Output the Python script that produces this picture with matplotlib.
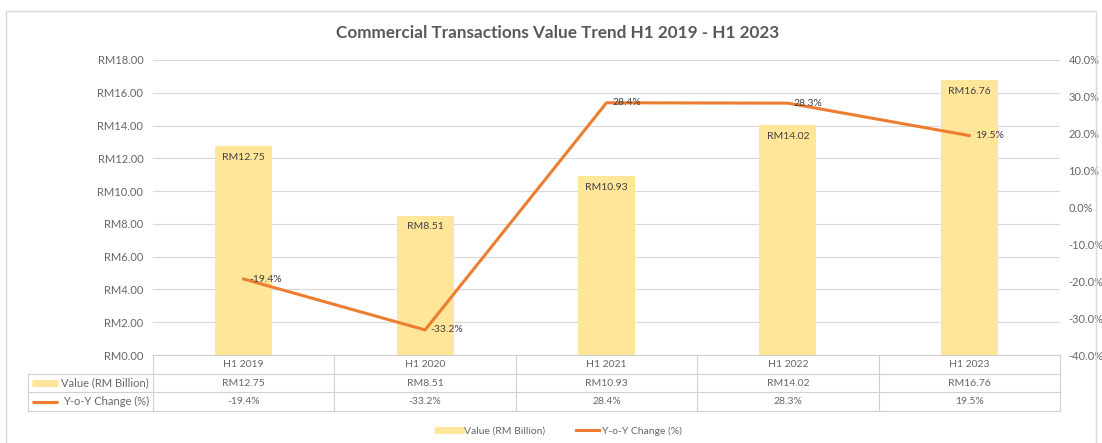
import numpy as np
import matplotlib.pyplot as plt
from matplotlib.lines import Line2D
from matplotlib.patches import Rectangle

plt.rcParams['font.family'] = ['Lato', 'DejaVu Sans']

periods = ['H1 2019', 'H1 2020', 'H1 2021', 'H1 2022', 'H1 2023']
values = [12.75, 8.51, 10.93, 14.02, 16.76]
yoy = [-19.4, -33.2, 28.4, 28.3, 19.5]
value_ticks = np.arange(0, 20, 2)
yoy_ticks = np.arange(-40, 50, 10)
series_names = ['Value (RM Billion)', 'Y-o-Y Change (%)']
title = 'Commercial Transactions Value Trend H1 2019 - H1 2023'

bar_color = '#FFE699'
line_color = '#ED7D31'
text_color = '#666666'
label_color = '#404040'
grid_color = '#D9D9D9'
fs = 7.5

W, H = 1102, 443
fig = plt.figure(figsize=(W / 100, H / 100), dpi=100)


def px(l, t, r, b):
    return [l / W, 1 - b / H, (r - l) / W, (b - t) / H]


# outer chart frame
fig.add_artist(Rectangle((6 / W, -0.02), (1096 - 6) / W, 1.02 - 11 / H,
                         transform=fig.transFigure, fill=False,
                         ec='#D9D9D9', lw=1))

fig.text(558 / W, 1 - 33 / H, title, ha='center', va='center',
         fontsize=12.3, color='#595959', weight='bold')

ax = fig.add_axes(px(153, 60, 1060, 355))
x = np.arange(len(periods))
ax.bar(x, values, width=0.315, color=bar_color, zorder=2)
ax.set_xlim(-0.5, 4.5)
ax.set_ylim(0, 18)
ax.set_yticks(value_ticks)
ax.set_yticklabels([f'RM{v:.2f}' for v in value_ticks])
ax.set_xticks([])
ax.grid(axis='y', color=grid_color, lw=0.8, zorder=0)
for s in ax.spines.values():
    s.set_visible(False)
ax.tick_params(axis='y', length=0, pad=7, labelsize=8, labelcolor=text_color)

for xi, v in zip(x, values):
    ax.annotate(f'RM{v:.2f}', (xi, v), xytext=(0, -5), textcoords='offset points',
                ha='center', va='top', fontsize=fs, color=label_color, zorder=4)

ax2 = ax.twinx()
ax2.plot(x, yoy, color=line_color, lw=2.2, zorder=3)
ax2.set_ylim(-40, 40)
ax2.set_yticks(yoy_ticks)
ax2.set_yticklabels([f'{v:.1f}%' for v in yoy_ticks])
for s in ax2.spines.values():
    s.set_visible(False)
ax2.tick_params(axis='y', length=0, pad=6, labelsize=8, labelcolor=text_color)
for xi, v in zip(x, yoy):
    ax2.annotate(f'{v}%', (xi, v), xytext=(4, 0), textcoords='offset points',
                 ha='left', va='center', fontsize=fs, color=label_color)

# data table under the plot
tax = fig.add_axes(px(153, 355, 1060, 411))
tax.set_xlim(-0.5, 4.5)
tax.set_ylim(3, 0)
tax.axis('off')
col_w = 907 / 5
xl = -0.5 - 125 / col_w
tc = '#D0D0D0'
tax.plot([-0.5, 4.5], [0, 0], color=tc, lw=0.8, clip_on=False)
for r in [1, 2, 3]:
    tax.plot([xl, 4.5], [r, r], color=tc, lw=0.8, clip_on=False)
for k in range(6):
    tax.plot([-0.5 + k, -0.5 + k], [0, 3], color=tc, lw=0.8, clip_on=False)
tax.plot([xl, xl], [1, 3], color=tc, lw=0.8, clip_on=False)

rows = [periods,
        [f'RM{v:.2f}' for v in values],
        [f'{v}%' for v in yoy]]
for r, row in enumerate(rows):
    for i, t in enumerate(row):
        tax.text(i, r + 0.5, t, ha='center', va='center', fontsize=fs, color=text_color)

lab_x = -0.5 - 4 / col_w
key_l = xl + 4 / col_w
key_r = xl + 30 / col_w
tax.text(lab_x, 1.5, series_names[0], ha='right', va='center', fontsize=8,
         color=text_color, clip_on=False)
tax.plot([key_l, key_r], [1.5, 1.5], color=bar_color, lw=5, solid_capstyle='butt',
         clip_on=False)
tax.text(lab_x, 2.5, series_names[1], ha='right', va='center', fontsize=8,
         color=text_color, clip_on=False)
tax.plot([key_l, key_r], [2.5, 2.5], color=line_color, lw=2.2, solid_capstyle='butt',
         clip_on=False)

handles = [Line2D([], [], color=bar_color, lw=5),
           Line2D([], [], color=line_color, lw=2.2)]
leg = fig.legend(handles, series_names, loc='center', ncol=2,
                 bbox_to_anchor=(560 / W, 1 - 431 / H), frameon=False,
                 fontsize=fs, handlelength=2.2, handletextpad=0.3, columnspacing=3)
for t in leg.get_texts():
    t.set_color(text_color)

fig.savefig('out.png', dpi=100)
